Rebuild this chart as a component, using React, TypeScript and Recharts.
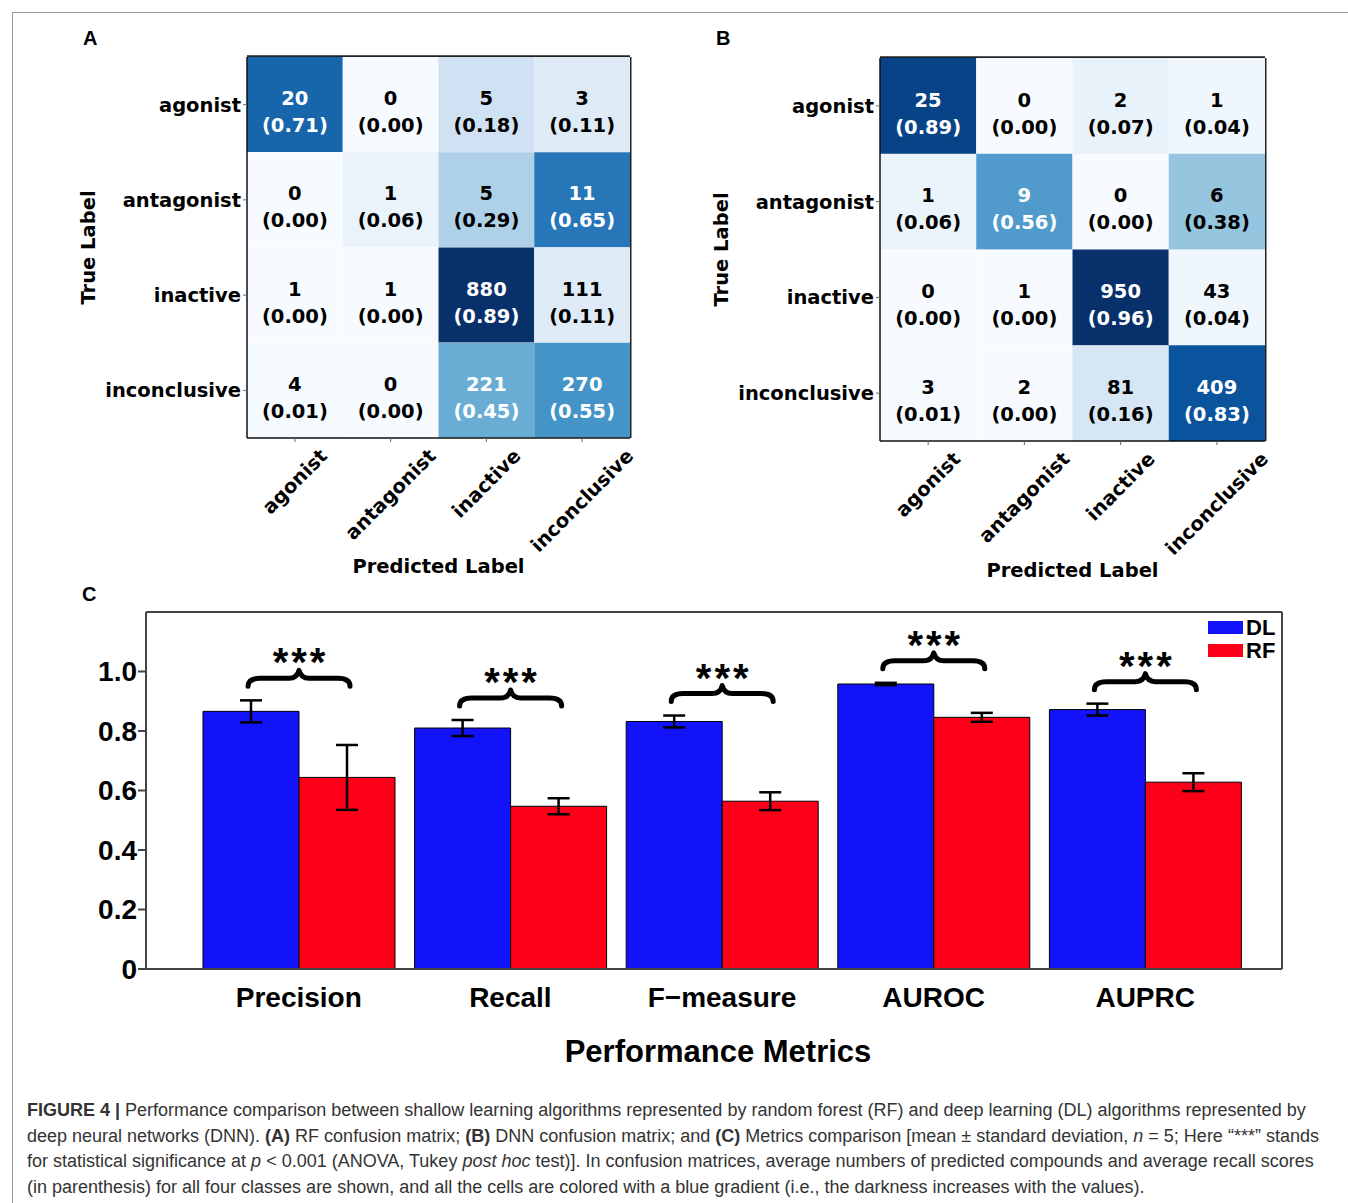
import React from 'react';
import { BarChart, Bar, XAxis, YAxis, Cell, ErrorBar, Legend, Label, CartesianGrid } from 'recharts';

// ---------- data ----------
const trueLabels = ['agonist', 'antagonist', 'inactive', 'inconclusive'];
const predLabels = ['agonist', 'antagonist', 'inactive', 'inconclusive'];

// (A) RF confusion matrix
const rfCounts = [
  [20, 0, 5, 3],
  [0, 1, 5, 11],
  [1, 1, 880, 111],
  [4, 0, 221, 270],
];
const rfRecall = [
  [0.71, 0.0, 0.18, 0.11],
  [0.0, 0.06, 0.29, 0.65],
  [0.0, 0.0, 0.89, 0.11],
  [0.01, 0.0, 0.45, 0.55],
];

// (B) DNN confusion matrix
const dnnCounts = [
  [25, 0, 2, 1],
  [1, 9, 0, 6],
  [0, 1, 950, 43],
  [3, 2, 81, 409],
];
const dnnRecall = [
  [0.89, 0.0, 0.07, 0.04],
  [0.06, 0.56, 0.0, 0.38],
  [0.0, 0.0, 0.96, 0.04],
  [0.01, 0.0, 0.16, 0.83],
];

// (C) metrics comparison
const metrics = ['Precision', 'Recall', 'F\u2212measure', 'AUROC', 'AUPRC'];
const dlMean = [0.866, 0.81, 0.832, 0.958, 0.872];
const dlSd = [0.037, 0.027, 0.02, 0.004, 0.02];
const rfMean = [0.644, 0.547, 0.564, 0.846, 0.628];
const rfSd = [0.109, 0.027, 0.03, 0.015, 0.03];
const yTicks = [0, 0.2, 0.4, 0.6, 0.8, 1.0];

// ---------- styles ----------
const FONT_MPL = '"DejaVu Sans", sans-serif';
const FONT_C = '"Liberation Sans", Arial, sans-serif';
const MPL_FS = 19.5;
const BLUE = '#1212fb';
const RED = '#fb0018';

const BLUES = ['#f7fbff', '#deebf7', '#c6dbef', '#9ecae1', '#6baed6', '#4292c6', '#2171b5', '#08519c', '#08306b'];
function hex(c: string) {
  return [1, 3, 5].map((k) => parseInt(c.slice(k, k + 2), 16));
}
function blues(t: number) {
  const tt = Math.max(0, Math.min(1, t)) * (BLUES.length - 1);
  const i = Math.min(BLUES.length - 2, Math.floor(tt));
  const f = tt - i;
  const a = hex(BLUES[i]);
  const b = hex(BLUES[i + 1]);
  const m = a.map((v, k) => Math.round(v + (b[k] - v) * f));
  return `rgb(${m[0]},${m[1]},${m[2]})`;
}

const CW: Record<string, number> = {
  a: 0.675, g: 0.716, o: 0.687, n: 0.712, i: 0.343, s: 0.595, t: 0.478,
  c: 0.593, v: 0.652, e: 0.678, l: 0.343, u: 0.712,
};
const textW = (s: string, fs: number) => s.split('').reduce((acc, ch) => acc + (CW[ch] ?? 0.65), 0) * fs;

// frame lines (top + right) derived from the chart's own plot offset
const topLine = (inset: number) => (p: any) => [p.offset.top - inset];
const rightLine = (inset: number) => (p: any) => [p.offset.left + p.offset.width + inset];

const PredTick = (props: any) => {
  const { x, y, payload } = props;
  const label = predLabels[Math.floor(payload.value)];
  const L = textW(label, MPL_FS);
  const half = ((L + 16) * 0.7071) / 2;
  const cx = x;
  const cy = y + 3 + half;
  return (
    <text
      x={cx}
      y={cy}
      transform={`rotate(-45 ${cx} ${cy})`}
      textAnchor="middle"
      dominantBaseline="central"
      fontFamily={FONT_MPL}
      fontWeight="bold"
      fontSize={MPL_FS}
      fill="#000"
    >
      {label}
    </text>
  );
};

const makeCellLabel = (j: number, counts: number[][], recall: number[][], vmax: number) => (props: any) => {
  const vb = props.viewBox || props;
  const x = props.x ?? vb.x;
  const y = props.y ?? vb.y;
  const width = props.width ?? vb.width;
  const height = props.height ?? vb.height;
  const i = props.index;
  if (i == null) return null;
  const cx = x + width / 2;
  const cy = y + height / 2;
  const fill = recall[i][j] > vmax / 2 ? '#ffffff' : '#000000';
  const common = {
    textAnchor: 'middle' as const,
    dominantBaseline: 'central' as const,
    fontFamily: FONT_MPL,
    fontWeight: 'bold',
    fontSize: MPL_FS,
    fill,
  };
  return (
    <g>
      <text x={cx} y={cy - 6} {...common}>
        {counts[i][j]}
      </text>
      <text x={cx} y={cy + 21} {...common}>
        ({recall[i][j].toFixed(2)})
      </text>
    </g>
  );
};

type MatrixProps = {
  counts: number[][];
  recall: number[][];
  width: number;
  height: number;
  margin: { top: number; right: number; left: number; bottom: number };
  xAxisHeight: number;
  titleDy: number;
};

const Matrix = ({ counts, recall, width, height, margin, xAxisHeight, titleDy }: MatrixProps) => {
  const vmax = Math.max(...recall.flat());
  const rows = trueLabels.map((l) => ({ label: l, c0: 1, c1: 1, c2: 1, c3: 1 }));
  const spine = { stroke: '#111', strokeWidth: 1.5 };
  return (
    <BarChart width={width} height={height} data={rows} layout="vertical" margin={margin} barCategoryGap={0} barGap={0}>
      <CartesianGrid
        stroke="#222"
        strokeWidth={1.8}
        horizontalCoordinatesGenerator={topLine(0.8)}
        verticalCoordinatesGenerator={rightLine(0.6)}
      />
      <XAxis
        type="number"
        domain={[0, 4]}
        ticks={[0.5, 1.5, 2.5, 3.5]}
        interval={0}
        tick={<PredTick />}
        tickSize={4}
        tickLine={{ stroke: '#666' }}
        axisLine={spine}
        height={xAxisHeight}
        label={
          <Label
            content={(p: any) => {
              const vb = p.viewBox;
              return (
                <text
                  x={vb.x + vb.width / 2}
                  y={vb.y + titleDy}
                  textAnchor="middle"
                  dominantBaseline="central"
                  fontFamily={FONT_MPL}
                  fontWeight="bold"
                  fontSize={MPL_FS}
                  fill="#000"
                >
                  Predicted Label
                </text>
              );
            }}
          />
        }
      />
      <YAxis
        type="category"
        dataKey="label"
        width={180}
        tickSize={4}
        tickMargin={2}
        tickLine={{ stroke: '#666' }}
        axisLine={spine}
        tick={{ fontFamily: FONT_MPL, fontWeight: 'bold', fontSize: MPL_FS, fill: '#000' }}
        label={
          <Label
            content={(p: any) => {
              const vb = p.viewBox;
              const x = vb.x + vb.width - 159;
              const y = vb.y + vb.height / 2;
              return (
                <text
                  x={x}
                  y={y}
                  transform={`rotate(-90 ${x} ${y})`}
                  textAnchor="middle"
                  dominantBaseline="central"
                  fontFamily={FONT_MPL}
                  fontWeight="bold"
                  fontSize={MPL_FS}
                  fill="#000"
                >
                  True Label
                </text>
              );
            }}
          />
        }
      />
      {[0, 1, 2, 3].map((j) => (
        <Bar key={j} dataKey={`c${j}`} stackId="m" isAnimationActive={false} label={makeCellLabel(j, counts, recall, vmax)}>
          {rows.map((_, i) => (
            <Cell key={i} fill={blues(recall[i][j] / vmax)} />
          ))}
        </Bar>
      ))}
    </BarChart>
  );
};

// ---------- panel C helpers ----------
const BraceLabel = (props: any) => {
  const vb = props.viewBox || props;
  const x = props.x ?? vb.x;
  const y = props.y ?? vb.y;
  const width = props.width ?? vb.width;
  const height = props.height ?? vb.height;
  const index = props.index ?? dlMean.indexOf(props.value);
  if (index == null || index < 0) return null;
  const pxPerUnit = height / dlMean[index];
  const errTop = y - dlSd[index] * pxPerUnit;
  const yb = errTop - 14;
  const x1 = x + width / 2 - 3;
  const x2 = x + width * 1.5 + 3;
  const xm = (x1 + x2) / 2;
  const d = `M ${x1} ${yb} Q ${x1} ${yb - 8} ${x1 + 12} ${yb - 8} L ${xm - 10} ${yb - 8} Q ${xm - 2} ${yb - 8} ${xm} ${yb - 16} Q ${xm + 2} ${yb - 8} ${xm + 10} ${yb - 8} L ${x2 - 12} ${yb - 8} Q ${x2} ${yb - 8} ${x2} ${yb}`;
  return (
    <g>
      <path d={d} fill="none" stroke="#000" strokeWidth={5} strokeLinecap="round" strokeLinejoin="round" />
      <text x={xm + 1.5} y={yb - 10} textAnchor="middle" fontFamily={FONT_C} fontWeight="bold" fontSize={40} letterSpacing={3} fill="#000">
        ***
      </text>
    </g>
  );
};

const MetricTick = (props: any) => {
  const { x, y, payload } = props;
  return (
    <text x={x} y={y + 28} textAnchor="middle" dominantBaseline="central" fontFamily={FONT_C} fontWeight="bold" fontSize={28} fill="#000">
      {payload.value}
    </text>
  );
};

const LegendBox = (props: any) => {
  const payload = props.payload || [];
  return (
    <div style={{ display: 'flex', flexDirection: 'column', gap: 2 }}>
      {payload.map((p: any) => (
        <div key={p.value} style={{ display: 'flex', alignItems: 'center', height: 21 }}>
          <div style={{ width: 35, height: 13, background: p.color, marginRight: 3 }} />
          <span style={{ fontFamily: FONT_C, fontWeight: 'bold', fontSize: 22, color: '#000', lineHeight: '21px' }}>{p.value}</span>
        </div>
      ))}
    </div>
  );
};

const MetricsChart = () => {
  const data = metrics.map((m, i) => ({ metric: m, dl: dlMean[i], dlErr: dlSd[i], rf: rfMean[i], rfErr: rfSd[i] }));
  const axis = { stroke: '#444', strokeWidth: 2 };
  return (
    <BarChart
      width={1240}
      height={490}
      data={data}
      margin={{ top: 22, right: 18, left: 16, bottom: 0 }}
      barCategoryGap={10}
      barGap={0}
    >
      <CartesianGrid
        stroke="#444"
        strokeWidth={2}
        horizontalCoordinatesGenerator={topLine(0)}
        verticalCoordinatesGenerator={rightLine(0)}
      />
      <XAxis
        dataKey="metric"
        padding={{ left: 47, right: 31 }}
        tickLine={false}
        tickSize={0}
        tickMargin={0}
        axisLine={axis}
        height={111}
        interval={0}
        tick={<MetricTick />}
        label={
          <Label
            content={(p: any) => {
              const vb = p.viewBox;
              return (
                <text
                  x={vb.x + vb.width / 2 + 4}
                  y={vb.y + 82}
                  textAnchor="middle"
                  dominantBaseline="central"
                  fontFamily={FONT_C}
                  fontWeight="bold"
                  fontSize={31}
                  fill="#000"
                >
                  Performance Metrics
                </text>
              );
            }}
          />
        }
      />
      <YAxis
        domain={[0, 1.2]}
        ticks={yTicks}
        interval={0}
        width={70}
        tickSize={8}
        tickMargin={1}
        tickLine={{ stroke: '#444', strokeWidth: 2 }}
        axisLine={axis}
        tickFormatter={(v: number) => (v === 0 ? '0' : v.toFixed(1))}
        tick={{ fontFamily: FONT_C, fontWeight: 'bold', fontSize: 28, fill: '#000' }}
      />
      <Legend
        layout="horizontal"
        verticalAlign="middle"
        align="center"
        content={<LegendBox />}
        wrapperStyle={{ left: 1148, top: 27, width: 'auto', right: 'auto' }}
      />
      <Bar dataKey="dl" name="DL" fill={BLUE} stroke="#000" strokeWidth={1} isAnimationActive={false} label={BraceLabel}>
        <ErrorBar dataKey="dlErr" width={11} strokeWidth={2.5} stroke="#000" direction="y" />
      </Bar>
      <Bar dataKey="rf" name="RF" fill={RED} stroke="#000" strokeWidth={1} isAnimationActive={false}>
        <ErrorBar dataKey="rfErr" width={11} strokeWidth={2.5} stroke="#000" direction="y" />
      </Bar>
    </BarChart>
  );
};

const letterStyle: React.CSSProperties = {
  position: 'absolute',
  fontFamily: FONT_C,
  fontWeight: 'bold',
  fontSize: 20,
  lineHeight: '20px',
  color: '#000',
};

const capStyle: React.CSSProperties = {
  whiteSpace: 'nowrap',
};

export default function App() {
  return (
    <div style={{ position: 'absolute', left: 0, top: 0, width: 1348, height: 1203, background: '#fff', overflow: 'hidden' }}>
      <div style={{ position: 'absolute', left: 12, top: 12, width: 1345, height: 1200, border: '1px solid #9a9a9a' }} />
      <div style={{ ...letterStyle, left: 83, top: 28 }}>A</div>
      <div style={{ ...letterStyle, left: 716, top: 28 }}>B</div>
      <div style={{ ...letterStyle, left: 82, top: 584 }}>C</div>

      <div style={{ position: 'absolute', left: 60, top: 20 }}>
        <Matrix
          counts={rfCounts}
          recall={rfRecall}
          width={600}
          height={560}
          margin={{ top: 37, right: 30, left: 7, bottom: 0 }}
          xAxisHeight={142}
          titleDy={128}
        />
      </div>
      <div style={{ position: 'absolute', left: 700, top: 20 }}>
        <Matrix
          counts={dnnCounts}
          recall={dnnRecall}
          width={600}
          height={570}
          margin={{ top: 38, right: 35, left: 0, bottom: 0 }}
          xAxisHeight={149}
          titleDy={129}
        />
      </div>
      <div style={{ position: 'absolute', left: 60, top: 590 }}>
        <MetricsChart />
      </div>

      <div
        style={{
          position: 'absolute',
          left: 27,
          top: 1098,
          fontFamily: FONT_C,
          fontSize: 18,
          lineHeight: '25.5px',
          color: '#333',
        }}
      >
        <div style={capStyle}>
          <b>FIGURE 4 |</b> Performance comparison between shallow learning algorithms represented by random forest (RF) and deep learning (DL) algorithms represented by
        </div>
        <div style={capStyle}>
          deep neural networks (DNN). <b>(A)</b> RF confusion matrix; <b>(B)</b> DNN confusion matrix; and <b>(C)</b> Metrics comparison [mean ± standard deviation, <i>n</i> = 5; Here “***” stands
        </div>
        <div style={capStyle}>
          for statistical significance at <i>p</i> &lt; 0.001 (ANOVA, Tukey <i>post hoc</i> test)]. In confusion matrices, average numbers of predicted compounds and average recall scores
        </div>
        <div style={capStyle}>
          (in parenthesis) for all four classes are shown, and all the cells are colored with a blue gradient (i.e., the darkness increases with the values).
        </div>
      </div>
    </div>
  );
}
